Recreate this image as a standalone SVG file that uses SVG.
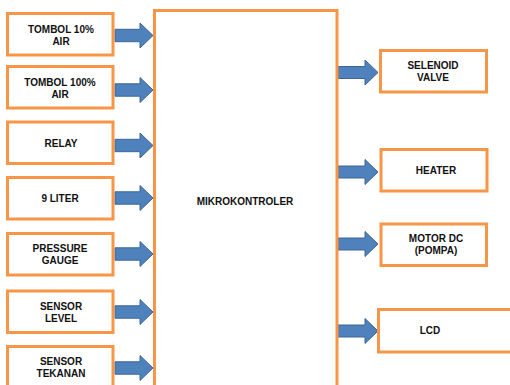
<svg xmlns="http://www.w3.org/2000/svg" xmlns:xlink="http://www.w3.org/1999/xlink" width="510" height="385" viewBox="0 0 510 385">
<style>
.box{fill:#fff;stroke:#F79646;stroke-width:3}
.t{font-family:"Liberation Sans",Arial,sans-serif;font-weight:bold;font-size:10px;fill:#111;text-anchor:middle}
.arr{fill:#4F81BD;stroke:#3A6795;stroke-width:1}
</style>
<defs>
<path id="aL" d="M0,-6.2 H25 V-12.5 L38,0 L25,12.5 V6.2 H0 Z"/>
<path id="aR" d="M0,-6 H27 V-12.5 L40,0 L27,12.5 V6 H0 Z"/>
</defs>
<rect width="510" height="385" fill="#fff"/>
<g id="connectors">
<use xlink:href="#aL" class="arr" x="115" y="35.5"/>
<use xlink:href="#aL" class="arr" x="115" y="90"/>
<use xlink:href="#aL" class="arr" x="115" y="145.5"/>
<use xlink:href="#aL" class="arr" x="115" y="198"/>
<use xlink:href="#aL" class="arr" x="115" y="254"/>
<use xlink:href="#aL" class="arr" x="115" y="312"/>
<use xlink:href="#aL" class="arr" x="115" y="368"/>
<use xlink:href="#aR" class="arr" x="338" y="72.5"/>
<use xlink:href="#aR" class="arr" x="338" y="172"/>
<use xlink:href="#aR" class="arr" x="338" y="244"/>
<use xlink:href="#aR" class="arr" x="338" y="331"/>
</g>
<g id="mikrokontroler">
<rect class="box" x="154.5" y="10.5" width="182.5" height="400"/>
<text class="t" x="245" y="205">MIKROKONTROLER</text>
</g>
<g id="tombol10">
<rect class="box" x="7.5" y="13.5" width="105.5" height="41.5"/>
<text class="t" x="61" y="32.5">TOMBOL 10%</text>
<text class="t" x="61" y="44.5">AIR</text>
</g>
<g id="tombol100">
<rect class="box" x="7.5" y="66.5" width="105.5" height="41.5"/>
<text class="t" x="60" y="85.5">TOMBOL 100%</text>
<text class="t" x="60" y="97.5">AIR</text>
</g>
<g id="relay">
<rect class="box" x="7.5" y="122" width="105.5" height="41.5"/>
<text class="t" x="61" y="146.5">RELAY</text>
</g>
<g id="liter9">
<rect class="box" x="7.5" y="177.5" width="105.5" height="41.5"/>
<text class="t" x="60" y="202">9 LITER</text>
</g>
<g id="pressure">
<rect class="box" x="7.5" y="233.5" width="105.5" height="41.5"/>
<text class="t" x="60" y="251.5">PRESSURE</text>
<text class="t" x="60" y="263.5">GAUGE</text>
</g>
<g id="sensorlevel">
<rect class="box" x="7.5" y="291" width="105.5" height="41.5"/>
<text class="t" x="61" y="309.5">SENSOR</text>
<text class="t" x="61" y="321.5">LEVEL</text>
</g>
<g id="sensortekanan">
<rect class="box" x="7.5" y="346.5" width="105.5" height="41.5"/>
<text class="t" x="61" y="365">SENSOR</text>
<text class="t" x="61" y="377">TEKANAN</text>
</g>
<g id="selenoid">
<rect class="box" x="380.5" y="50.5" width="106" height="41.5"/>
<text class="t" x="433" y="68.5">SELENOID</text>
<text class="t" x="433" y="80.5">VALVE</text>
</g>
<g id="heater">
<rect class="box" x="381" y="149.5" width="106" height="41.5"/>
<text class="t" x="436" y="173.5">HEATER</text>
</g>
<g id="motordc">
<rect class="box" x="381" y="224" width="105.5" height="41.5"/>
<text class="t" x="436" y="242">MOTOR DC</text>
<text class="t" x="436" y="254">(POMPA)</text>
</g>
<g id="lcd">
<rect class="box" x="378.5" y="309.5" width="140" height="42.5"/>
<text class="t" x="430" y="334">LCD</text>
</g>
</svg>
